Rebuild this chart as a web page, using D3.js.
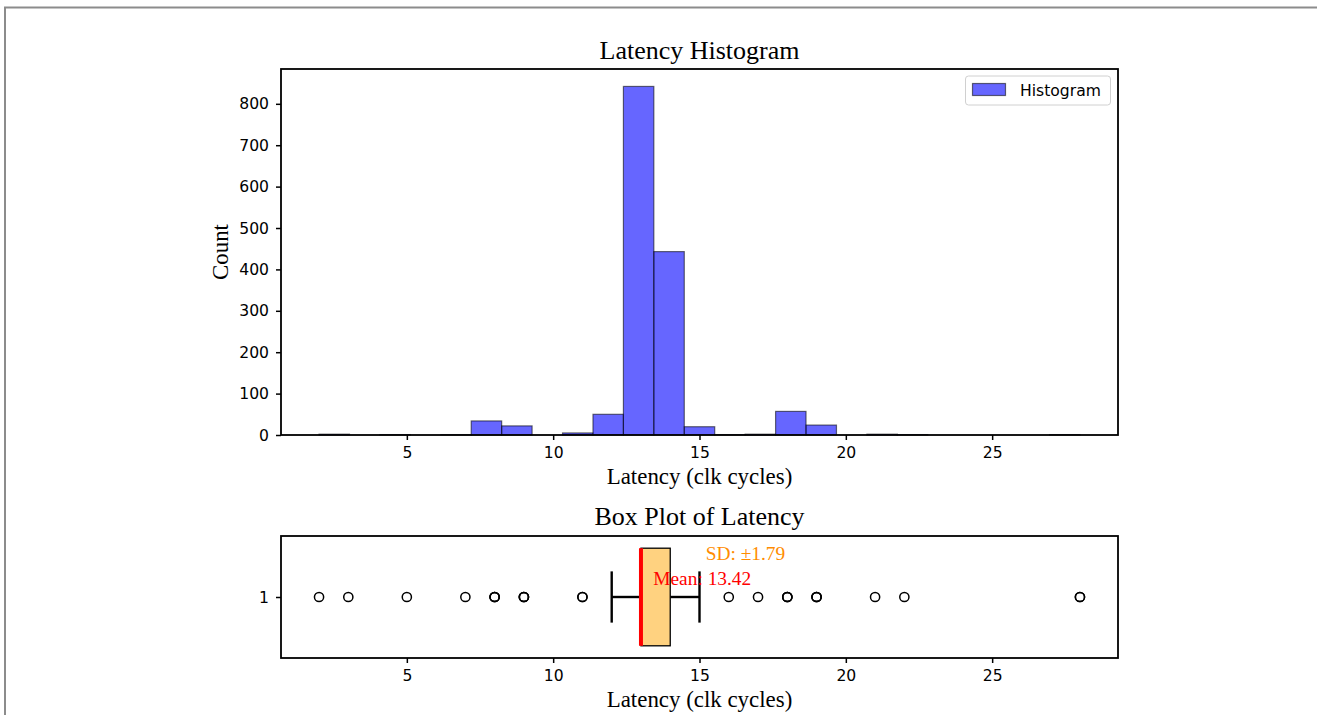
<!DOCTYPE html>
<html>
<head>
<meta charset="utf-8">
<script src="https://cdn.jsdelivr.net/npm/d3@7/dist/d3.min.js"></script>
<style>
  body { margin: 0; background: #fff; }
  svg { display: block; }
</style>
</head>
<body>
<svg id="chart" width="1317" height="715"></svg>
<script>
// ---- Data ----
const binRange = [2, 28];          // data min / max
const binCount = 25;
const histCounts = [2, 0, 1, 0, 1, 34, 22, 0, 5, 50, 842, 443, 20, 1, 2, 57, 24, 0, 2, 1, 0, 0, 0, 0, 1];
const xTicks = [5, 10, 15, 20, 25];
const yTicks = [0, 100, 200, 300, 400, 500, 600, 700, 800];
const boxStats = { whiskerLow: 12, q1: 13, median: 13, q3: 14, whiskerHigh: 15 };
const outliers = [2, 3, 5, 7, 8, 8, 8, 9, 9, 9, 11, 11, 16, 17, 18, 18, 18, 19, 19, 19, 21, 22, 28, 28];
const meanValue = 13.42;
const sdValue = 1.79;
const boxTickLabels = ["1"];

// ---- Layout ----
const svg = d3.select("#chart");
const H = { left: 281, right: 1118, top: 69, bottom: 435 };
const B = { left: 281, right: 1118, top: 536, bottom: 658 };
const serif = "'Liberation Serif', 'Times New Roman', serif";
const sans = "'DejaVu Sans', sans-serif";

// page frame (top and left border)
svg.append("line").attr("x1", 4).attr("x2", 1317).attr("y1", 7.5).attr("y2", 7.5)
  .attr("stroke", "#8c8c8c").attr("stroke-width", 2);
svg.append("line").attr("x1", 5).attr("x2", 5).attr("y1", 7).attr("y2", 715)
  .attr("stroke", "#8c8c8c").attr("stroke-width", 2);

const pad = (binRange[1] - binRange[0]) * 0.05;
const x = d3.scaleLinear().domain([binRange[0] - pad, binRange[1] + pad]).range([H.left, H.right]);
const yH = d3.scaleLinear().domain([0, d3.max(histCounts) * 1.05]).range([H.bottom, H.top]);
const xB = d3.scaleLinear().domain([binRange[0] - pad, binRange[1] + pad]).range([B.left, B.right]);
const yB = d3.scaleLinear().domain([0.5, 1.5]).range([B.bottom, B.top]);

const binW = (binRange[1] - binRange[0]) / binCount;
const bins = histCounts.map((c, i) => ({ x0: binRange[0] + i * binW, x1: binRange[0] + (i + 1) * binW, c }));

// ---- Histogram ----
const gH = svg.append("g");
gH.selectAll("rect.bar").data(bins).enter().append("rect")
  .attr("class", "bar")
  .attr("x", d => x(d.x0))
  .attr("width", d => x(d.x1) - x(d.x0))
  .attr("y", d => yH(d.c))
  .attr("height", d => yH(0) - yH(d.c))
  .attr("fill", "#0000ff").attr("fill-opacity", 0.6)
  .attr("stroke", "#000").attr("stroke-opacity", 0.55).attr("stroke-width", 1.2);

function styleAxis(g) {
  g.selectAll("path.domain").remove();
  g.selectAll(".tick line").attr("stroke", "#000").attr("stroke-width", 1.5);
  g.selectAll(".tick text").attr("font-family", sans).attr("font-size", "15.6px").attr("fill", "#000");
}

svg.append("g").attr("transform", `translate(0,${H.bottom})`)
  .call(d3.axisBottom(x).tickValues(xTicks).tickSize(5).tickPadding(7).tickFormat(d3.format("d")))
  .call(styleAxis);
svg.append("g").attr("transform", `translate(${H.left},0)`)
  .call(d3.axisLeft(yH).tickValues(yTicks).tickSize(5).tickPadding(7).tickFormat(d3.format("d")))
  .call(styleAxis);

svg.append("rect").attr("x", H.left).attr("y", H.top)
  .attr("width", H.right - H.left).attr("height", H.bottom - H.top)
  .attr("fill", "none").attr("stroke", "#000").attr("stroke-width", 1.8);

svg.append("text").attr("x", (H.left + H.right) / 2).attr("y", 59)
  .attr("text-anchor", "middle").attr("font-family", serif).attr("font-size", "26px")
  .text("Latency Histogram");
svg.append("text").attr("x", (H.left + H.right) / 2).attr("y", 484)
  .attr("text-anchor", "middle").attr("font-family", serif).attr("font-size", "22.9px")
  .text("Latency (clk cycles)");
svg.append("text").attr("transform", `translate(228,${(H.top + H.bottom) / 2}) rotate(-90)`)
  .attr("text-anchor", "middle").attr("font-family", serif).attr("font-size", "22.9px")
  .text("Count");

// legend
const lg = svg.append("g");
lg.append("rect").attr("x", 965.5).attr("y", 76).attr("width", 145).attr("height", 29)
  .attr("rx", 3).attr("fill", "#fff").attr("fill-opacity", 0.8)
  .attr("stroke", "#d0d0d0").attr("stroke-width", 1);
lg.append("rect").attr("x", 972.5).attr("y", 83.5).attr("width", 33).attr("height", 12)
  .attr("fill", "#0000ff").attr("fill-opacity", 0.6)
  .attr("stroke", "#000").attr("stroke-opacity", 0.55).attr("stroke-width", 1.2);
lg.append("text").attr("x", 1020).attr("y", 96).attr("font-family", sans).attr("font-size", "15.6px")
  .text("Histogram");

// ---- Box plot ----
svg.append("g").attr("transform", `translate(0,${B.bottom})`)
  .call(d3.axisBottom(xB).tickValues(xTicks).tickSize(5).tickPadding(7).tickFormat(d3.format("d")))
  .call(styleAxis);
svg.append("g").attr("transform", `translate(${B.left},0)`)
  .call(d3.axisLeft(yB).tickValues([1]).tickSize(5).tickPadding(7).tickFormat((d, i) => boxTickLabels[i]))
  .call(styleAxis);

const gB = svg.append("g");
const yc = yB(1);
// whiskers
gB.append("line").attr("x1", xB(boxStats.whiskerLow)).attr("x2", xB(boxStats.q1)).attr("y1", yc).attr("y2", yc)
  .attr("stroke", "#000").attr("stroke-width", 2.4);
gB.append("line").attr("x1", xB(boxStats.q3)).attr("x2", xB(boxStats.whiskerHigh)).attr("y1", yc).attr("y2", yc)
  .attr("stroke", "#000").attr("stroke-width", 2.4);
[boxStats.whiskerLow, boxStats.whiskerHigh].forEach(v => {
  gB.append("line").attr("x1", xB(v)).attr("x2", xB(v)).attr("y1", yB(1 - 0.21)).attr("y2", yB(1 + 0.21))
    .attr("stroke", "#000").attr("stroke-width", 2.4);
});
// box
gB.append("rect").attr("x", xB(boxStats.q1)).attr("width", xB(boxStats.q3) - xB(boxStats.q1))
  .attr("y", yB(1.4)).attr("height", yB(0.6) - yB(1.4))
  .attr("fill", "#ffd280").attr("stroke", "#000").attr("stroke-width", 1.3);
// median
gB.append("line").attr("x1", xB(boxStats.median)).attr("x2", xB(boxStats.median))
  .attr("y1", yB(1.4)).attr("y2", yB(0.6))
  .attr("stroke", "#ff0000").attr("stroke-width", 4);
// outliers
gB.selectAll("circle.out").data(outliers).enter().append("circle")
  .attr("class", "out")
  .attr("cx", d => xB(d)).attr("cy", yc).attr("r", 4.6)
  .attr("fill", "none").attr("stroke", "#000").attr("stroke-width", 1.5);

// annotations
svg.append("text").attr("x", xB(meanValue)).attr("y", yB(1.1))
  .attr("font-family", serif).attr("font-size", "19.4px").attr("fill", "#ff0000")
  .text(`Mean: ${meanValue.toFixed(2)}`);
svg.append("text").attr("x", xB(meanValue + sdValue)).attr("y", yB(1.3))
  .attr("font-family", serif).attr("font-size", "19.4px").attr("fill", "#ff8c00")
  .text(`SD: ±${sdValue.toFixed(2)}`);

svg.append("rect").attr("x", B.left).attr("y", B.top)
  .attr("width", B.right - B.left).attr("height", B.bottom - B.top)
  .attr("fill", "none").attr("stroke", "#000").attr("stroke-width", 1.8);

svg.append("text").attr("x", (B.left + B.right) / 2).attr("y", 525)
  .attr("text-anchor", "middle").attr("font-family", serif).attr("font-size", "26px")
  .text("Box Plot of Latency");
svg.append("text").attr("x", (B.left + B.right) / 2).attr("y", 707)
  .attr("text-anchor", "middle").attr("font-family", serif).attr("font-size", "22.9px")
  .text("Latency (clk cycles)");
</script>
</body>
</html>
